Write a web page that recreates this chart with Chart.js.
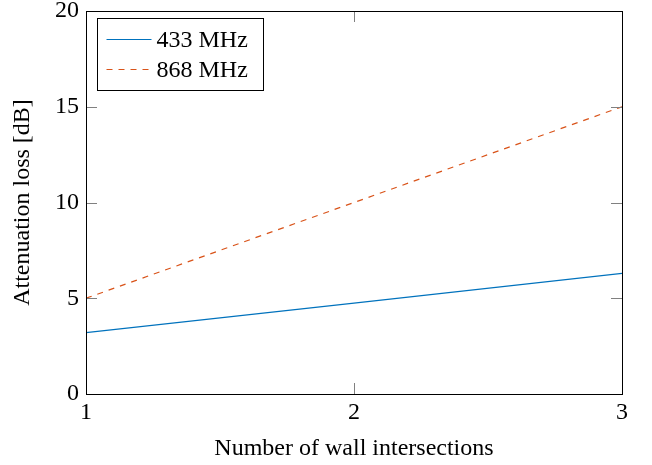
<!DOCTYPE html>
<html>
<head>
<meta charset="utf-8">
<script src="https://cdn.jsdelivr.net/npm/chart.js@4.4.0/dist/chart.umd.min.js"></script>
<style>
  body { margin: 0; background: #fff; }
  #wrap { width: 652px; height: 465px; }
</style>
</head>
<body>
<div id="wrap"><canvas id="myChart" width="652" height="465"></canvas></div>
<script>
const walls = [1, 2, 3];
const loss433 = [3.2, 4.75, 6.3];
const loss868 = [5, 10, 15];
const seriesNames = ['433 MHz', '868 MHz'];
const yTicks = [0, 5, 10, 15, 20];

const serif = "'Liberation Serif', 'DejaVu Serif', serif";

function toPoints(xs, ys){
    let pts = [];
    for(let i = 0; i < xs.length; i++){
        pts.push({x: xs[i], y: ys[i]});
    }
    return pts;
}

// pgfplots style: inward ticks on all sides, frame, legend box in the top left
const framePlugin = {
    id: 'frame',
    afterDatasetsDraw(chart){
        const ctx = chart.ctx;
        const a = chart.chartArea;
        const xs = chart.scales.x, ys = chart.scales.y;
        ctx.save();
        ctx.strokeStyle = '#808080';
        ctx.lineWidth = 1;
        ctx.beginPath();
        xs.ticks.forEach(t => {
            const px = Math.round(xs.getPixelForValue(t.value)) + 0.5;
            ctx.moveTo(px, a.bottom); ctx.lineTo(px, a.bottom - 11);
            ctx.moveTo(px, a.top); ctx.lineTo(px, a.top + 11);
        });
        ys.ticks.forEach(t => {
            const py = Math.round(ys.getPixelForValue(t.value)) + 0.5;
            ctx.moveTo(a.left, py); ctx.lineTo(a.left + 11, py);
            ctx.moveTo(a.right, py); ctx.lineTo(a.right - 11, py);
        });
        ctx.stroke();
        ctx.strokeStyle = '#000';
        ctx.strokeRect(Math.round(a.left) + 0.5, Math.round(a.top) + 0.5,
                       Math.round(a.right - a.left), Math.round(a.bottom - a.top));

        // legend
        const lx = a.left + 11.5, ly = a.top + 7.5;
        ctx.fillStyle = '#fff';
        ctx.fillRect(lx, ly, 166, 72);
        ctx.strokeStyle = '#000';
        ctx.strokeRect(lx, ly, 166, 72);
        ctx.font = '24px ' + serif;
        ctx.textBaseline = 'middle';
        chart.data.datasets.forEach((ds, i) => {
            const cy = ly + 21 + i * 30;
            ctx.strokeStyle = ds.borderColor;
            ctx.lineWidth = 1;
            ctx.setLineDash(ds.borderDash || []);
            ctx.beginPath();
            ctx.moveTo(lx + 9, cy); ctx.lineTo(lx + 54, cy);
            ctx.stroke();
            ctx.setLineDash([]);
            ctx.fillStyle = '#000';
            ctx.fillText(ds.label, lx + 59, cy + 1);
        });
        ctx.restore();
    }
};

const data = {
    datasets: [{
        label: seriesNames[0],
        data: toPoints(walls, loss433),
        borderColor: '#0072BD',
        borderWidth: 1.2,
        pointRadius: 0,
        fill: false
    }, {
        label: seriesNames[1],
        data: toPoints(walls, loss868),
        borderColor: '#D95319',
        borderWidth: 1.2,
        borderDash: [6, 6],
        pointRadius: 0,
        fill: false
    }]
};

const config = {
    type: 'line',
    data,
    options: {
        responsive: false,
        animation: false,
        layout: { padding: { top: 11, right: 30, left: 0, bottom: 0 } },
        plugins: { legend: { display: false }, tooltip: { enabled: false } },
        scales: {
            x: {
                type: 'linear',
                min: 1, max: 3,
                grid: { display: false, drawTicks: false },
                border: { display: false },
                ticks: { stepSize: 1, color: '#000', padding: 4, font: { family: serif, size: 24 } },
                title: { display: true, text: 'Number of wall intersections', color: '#000',
                         padding: { top: 6, bottom: 2 }, font: { family: serif, size: 24 } },
                afterFit(scale){ scale.height = 71; scale.paddingLeft = 0; scale.paddingRight = 0; }
            },
            y: {
                min: 0, max: 20,
                afterBuildTicks(scale){ scale.ticks = yTicks.map(v => ({value: v})); },
                grid: { display: false, drawTicks: false },
                border: { display: false },
                ticks: { color: '#000', padding: 7, font: { family: serif, size: 24 } },
                title: { display: true, text: 'Attenuation loss [dB]', color: '#000',
                         padding: { top: 8, bottom: 0 }, font: { family: serif, size: 24 } },
                afterFit(scale){ scale.width = 86; scale.paddingTop = 0; scale.paddingBottom = 0; }
            }
        }
    },
    plugins: [framePlugin]
};

var myChart = new Chart(document.getElementById('myChart'), config);
</script>
</body>
</html>
